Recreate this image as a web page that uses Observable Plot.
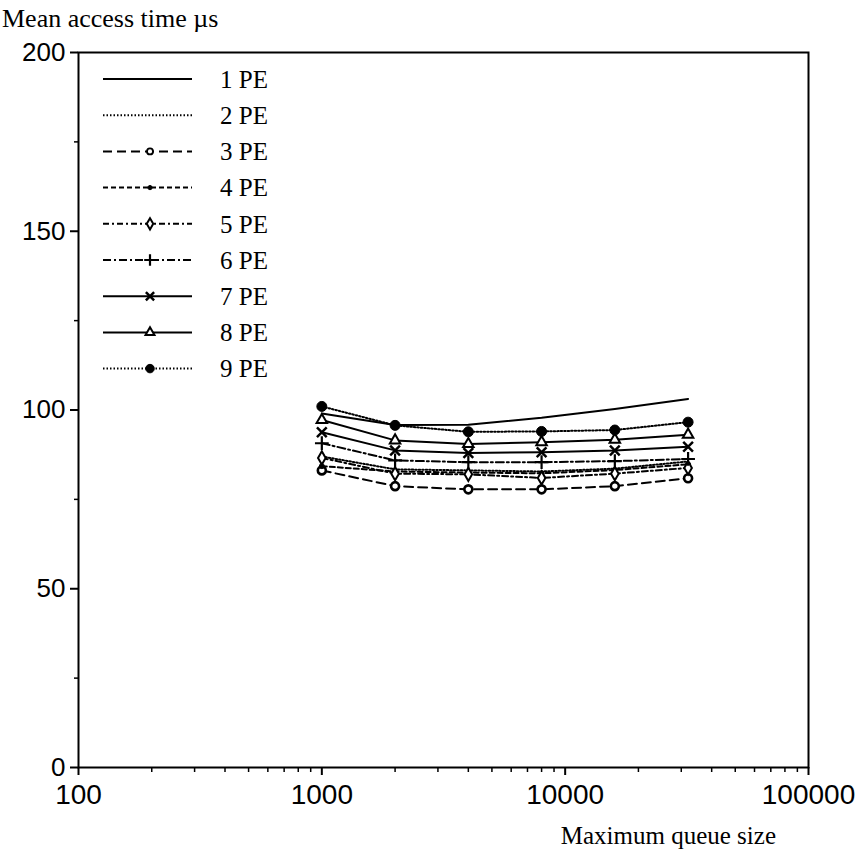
<!DOCTYPE html>
<html><head><meta charset="utf-8">
<script src="https://cdn.jsdelivr.net/npm/d3@7"></script>
<script src="https://cdn.jsdelivr.net/npm/@observablehq/plot@0.6"></script>
<style>body{margin:0;background:#fff} svg{display:block}</style>
</head><body><div id="chart"></div>
<script>
// ---- data ----
const queueSizes = [1000, 2000, 4000, 8000, 16000, 32000];
const seriesNames = ["1 PE", "2 PE", "3 PE", "4 PE", "5 PE", "6 PE", "7 PE", "8 PE", "9 PE"];
const pe1 = [99.0, 95.8, 95.9, 97.8, 100.3, 103.1];
const pe2 = [87.0, 83.4, 83.1, 82.8, 83.6, 85.6];
const pe3 = [83.1, 78.7, 77.8, 77.8, 78.7, 80.9];
const pe4 = [84.3, 82.8, 82.5, 82.3, 83.2, 84.8];
const pe5 = [86.6, 82.2, 82.0, 81.0, 82.2, 83.8];
const pe6 = [90.7, 85.9, 85.4, 85.4, 85.7, 86.3];
const pe7 = [93.8, 88.7, 88.0, 88.2, 88.7, 89.7];
const pe8 = [97.2, 91.5, 90.5, 91.0, 91.7, 93.1];
const pe9 = [101.0, 95.7, 93.9, 94.0, 94.4, 96.6];
const seriesValues = [pe1, pe2, pe3, pe4, pe5, pe6, pe7, pe8, pe9];
const yTicks = [0, 50, 100, 150, 200];
const yMinorTicks = [25, 75, 125, 175];
const xTicks = [100, 1000, 10000, 100000];
const xMinorMantissas = [2, 3, 4, 5, 6, 7, 8, 9];
const xMinorDecades = [100, 1000, 10000];
const yTitle = "Mean access time µs";
const xTitle = "Maximum queue size";

// ---- styles ----
const styles = {
  "1 PE": {dash: null, symbol: null},
  "2 PE": {dash: "1.5,2", symbol: null, sw: 2},
  "3 PE": {dash: "9,5", symbol: "circle", fill: "white", r: 4, msw: 2.6},
  "4 PE": {dash: "5,3", symbol: "circle", fill: "black", r: 2.5, msw: 1},
  "5 PE": {dash: "6,3,2,3", symbol: "diamond", fill: "white", r: 4, msw: 2},
  "6 PE": {dash: "8,3,2,3", symbol: "plus", fill: "none", r: 4.5, msw: 2.2},
  "7 PE": {dash: null, symbol: "times", fill: "none", r: 4.5, msw: 2.5},
  "8 PE": {dash: null, symbol: "triangle", fill: "white", r: 3.9, msw: 2},
  "9 PE": {dash: "1.5,2", symbol: "circle", fill: "black", r: 5, msw: 1}
};

const table = seriesNames.flatMap((s, i) => queueSizes.map((q, j) => ({series: s, x: q, y: seriesValues[i][j]})));
const xMinorTicks = xMinorDecades.flatMap(d => xMinorMantissas.map(m => m * d));

const marks = [];
seriesNames.forEach(s => {
  const st = styles[s];
  const rows = table.filter(d => d.series === s);
  marks.push(Plot.line(rows, {x: "x", y: "y", stroke: "black", strokeWidth: st.sw || 2, strokeDasharray: st.dash || undefined}));
});
seriesNames.forEach(s => {
  const st = styles[s];
  if (!st.symbol) return;
  const rows = table.filter(d => d.series === s);
  marks.push(Plot.dot(rows, {x: "x", y: "y", symbol: () => st.symbol, r: st.r, fill: st.fill, stroke: "black", strokeWidth: st.msw}));
});

const plot = Plot.plot({
  width: 860, height: 857,
  marginLeft: 78, marginRight: 52, marginTop: 52, marginBottom: 90,
  x: {type: "log", domain: [100, 100000]},
  y: {domain: [0, 200]},
  symbol: {type: "identity"},
  style: {fontFamily: "'Liberation Sans', Arial, sans-serif", fontSize: "26px", color: "black", background: "white"},
  marks: [
    Plot.frame({stroke: "black", strokeWidth: 2}),
    Plot.axisY({ticks: yTicks, tickSize: 8, tickPadding: 5, tickFormat: d => String(d), label: null, strokeWidth: 2, fontSize: 26}),
    Plot.axisY({ticks: yMinorTicks, tickSize: 4, tickFormat: () => "", label: null, strokeWidth: 1.5}),
    Plot.axisX({ticks: xTicks, tickSize: 8, tickPadding: 9, tickFormat: d => String(d), label: null, strokeWidth: 2, fontSize: 28}),
    Plot.axisX({ticks: xMinorTicks, tickSize: 5, tickFormat: () => "", label: null, strokeWidth: 1.5}),
    ...marks
  ]
});
document.getElementById("chart").appendChild(plot);

// ---- titles and legend ----
const svg = d3.select(plot);
const serif = "'Liberation Serif', 'Times New Roman', serif";
svg.append("text").attr("x", 2).attr("y", 27).attr("text-anchor", "start").attr("font-family", serif).attr("font-size", 26).attr("fill", "black").text(yTitle);
svg.append("text").attr("x", 776).attr("y", 844).attr("text-anchor", "end").attr("font-family", serif).attr("font-size", 25).attr("fill", "black").text(xTitle);

const lg = svg.append("g").attr("text-anchor", "start");
const symMap = {circle: d3.symbolCircle, diamond: d3.symbolDiamond, plus: d3.symbolPlus, times: d3.symbolTimes, triangle: d3.symbolTriangle};
seriesNames.forEach((s, i) => {
  const st = styles[s];
  const y = 79 + i * 36.2;
  lg.append("line").attr("x1", 103).attr("x2", 192).attr("y1", y).attr("y2", y)
    .attr("stroke", "black").attr("stroke-width", st.sw || 2).attr("stroke-dasharray", st.dash || null);
  if (st.symbol) {
    const r = st.symbol === "circle" && s === "3 PE" ? 3 : st.r * 0.85;
    const w = s === "3 PE" ? 1.8 : st.msw;
    lg.append("path").attr("transform", `translate(150,${y})`)
      .attr("d", d3.symbol(symMap[st.symbol], r * r * Math.PI)())
      .attr("fill", st.fill).attr("stroke", "black").attr("stroke-width", w);
  }
  lg.append("text").attr("x", 220).attr("y", y).attr("dy", "0.35em").attr("text-anchor", "start").attr("font-family", serif).attr("font-size", 25).attr("fill", "black").text(s);
});
</script>
</body></html>
